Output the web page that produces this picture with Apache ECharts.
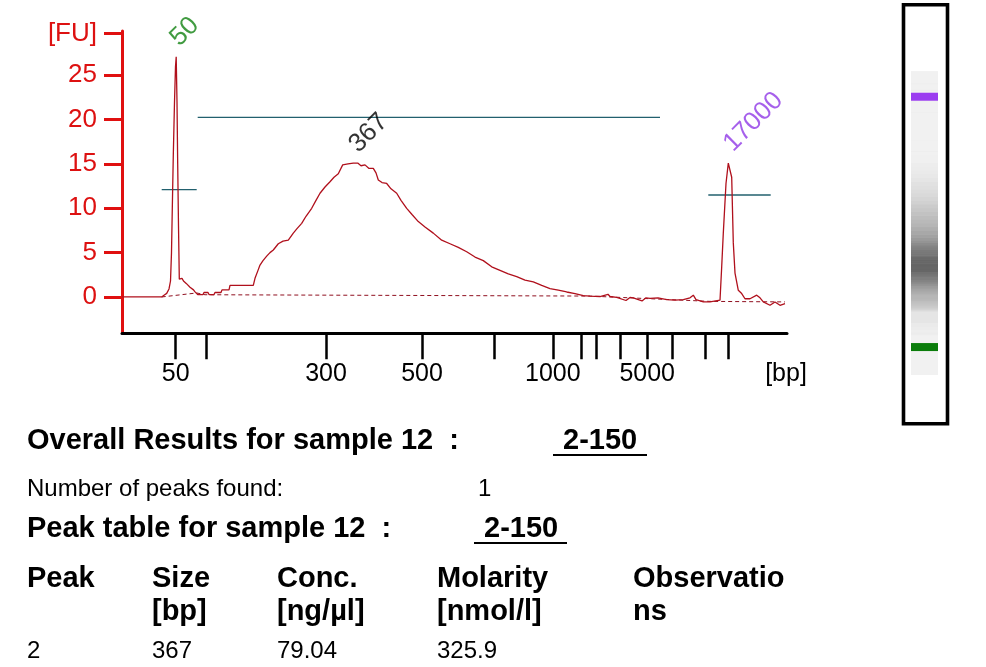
<!DOCTYPE html>
<html>
<head>
<meta charset="utf-8">
<script src="https://cdn.jsdelivr.net/npm/echarts@6/dist/echarts.min.js"></script>
<style>
html, body { margin: 0; padding: 0; background: #fff; }
#chart { width: 986px; height: 667px; }
</style>
</head>
<body>
<div id="chart"></div>
<script>
// electropherogram: migration time (s) vs fluorescence [FU]
const trace = [
  [40.00, 0], [43.97, 0], [44.20, 0.2], [44.47, 0.4], [44.70, 0.9], [44.85, 1.8], [44.95, 5],
  [45.03, 10], [45.13, 16], [45.25, 22], [45.35, 26], [45.42, 27.1], [45.50, 22], [45.57, 15],
  [45.65, 8], [45.73, 2.0], [45.90, 1.9], [46.00, 2.1], [46.15, 1.8], [46.30, 1.7], [46.45, 1.5],
  [46.63, 1.3], [46.80, 1.1], [46.97, 1.0], [47.15, 0.8], [47.30, 0.57], [47.57, 0.27], [48.10, 0.27],
  [48.20, 0.5], [48.60, 0.5], [48.70, 0.27], [49.20, 0.27], [49.30, 0.5], [49.90, 0.5], [50.00, 0.8],
  [50.70, 0.8], [50.80, 1.3], [53.13, 1.3], [53.30, 2.1], [53.60, 3.0], [53.80, 3.6], [54.10, 4.1],
  [54.47, 4.6], [54.80, 5.0], [55.13, 5.3], [55.63, 6.0], [56.10, 6.3], [56.63, 6.4], [57.13, 7.2],
  [57.50, 7.7], [57.97, 8.3], [58.40, 9.1], [58.97, 10.0], [59.40, 10.9], [59.80, 11.7], [60.30, 12.4],
  [60.80, 13.0], [61.20, 13.5], [61.63, 13.9], [62.07, 14.9], [62.60, 15.0], [63.13, 15.1], [63.57, 15.1],
  [63.90, 14.8], [64.30, 14.9], [64.70, 14.5], [65.13, 14.5], [65.40, 14.0], [65.63, 13.2], [66.00, 12.9],
  [66.47, 12.8], [66.90, 12.2], [67.47, 11.7], [67.90, 10.9], [68.47, 10.0], [69.00, 9.3], [69.63, 8.5],
  [70.30, 7.9], [71.13, 7.2], [71.97, 6.4], [72.80, 6.0], [73.63, 5.6], [74.47, 5.1], [75.30, 4.5],
  [76.13, 4.1], [76.97, 3.4], [77.80, 3.0], [78.63, 2.6], [79.47, 2.3], [80.30, 1.9], [81.13, 1.7],
  [81.97, 1.3], [82.80, 0.95], [83.63, 0.76], [84.47, 0.56], [85.30, 0.38], [86.13, 0.15], [86.80, 0.1],
  [87.80, 0.05], [88.60, 0.3], [88.80, 0.05], [89.47, -0.05], [90.40, -0.4], [90.80, -0.05], [91.13, -0.1],
  [92.00, -0.45], [92.40, -0.1], [92.80, -0.15], [93.60, -0.1], [94.47, -0.3], [95.30, -0.35], [96.13, -0.3],
  [96.80, -0.1], [97.13, 0.2], [97.40, -0.3], [98.13, -0.56], [98.80, -0.56], [99.80, -0.37], [99.97, 3.4],
  [100.13, 7.2], [100.40, 12.8], [100.63, 15.1], [100.75, 15.2], [100.97, 13.5], [101.13, 6.1], [101.30, 2.7],
  [101.63, 0.75], [101.97, 0.38], [102.30, -0.2], [102.80, -0.2], [103.47, 0.2], [103.80, -0.1], [104.13, -0.56],
  [104.80, -0.94], [105.30, -0.56], [105.80, -0.94], [106.30, -0.75]
];
const baseline = [[43.97, 0], [47.47, 0.45], [48.3, 0.25], [86.8, 0.1], [98.8, -0.5], [106.3, -0.56]];

// integration regions
const regionStart = [43.97, 47.57, 98.63];
const regionEnd = [47.47, 93.8, 104.87];
const regionLevel = [12.1, 20.25, 11.5];

// labelled peaks
const peakTime = [45.42, 63.3, 100.75];
const peakFU = [27.1, 15.1, 15.2];
const peakText = ['50', '367', '17000'];

// ladder (bp) and its migration times
const ladderBp = [50, 100, 300, 500, 700, 1000, 1500, 2000, 3000, 5000, 7000, 10000, 17000];
const ladderTime = [45.37, 48.44, 60.4, 70.0, 77.25, 83.08, 85.97, 87.43, 89.86, 92.52, 95.0, 98.35, 100.64];
const labelledBp = [50, 300, 500, 1000, 5000];
const unitPos = 106.4;
const yTicks = [0, 5, 10, 15, 20, 25, 29.7];

// gel lane markers (lower / upper)
const markerTime = [45.37, 100.64];

// text results
const sampleName = '2-150';
const peaksFound = '1';
const tableHead1 = ['Peak', 'Size', 'Conc.', 'Molarity', 'Observatio'];
const tableHead2 = ['', '[bp]', '[ng/\u00b5l]', '[nmol/l]', 'ns'];
const tableRow = ['2', '367', '79.04', '325.9', ''];

const peakColors = ['#118211', '#000000', '#9038e6'];
const markerColors = ['#0b7d0b', '#9b3cf0'];
const colX = [27, 152, 277, 437, 633];
const FONT = 'Liberation Sans, Arial, sans-serif';

const chart = echarts.init(document.getElementById('chart'));

const labelTimes = labelledBp.map(b => ladderTime[ladderBp.indexOf(b)]).concat([unitPos]);
function xLabel(v) {
  if (v === unitPos) return '[bp]';
  const i = ladderTime.indexOf(v);
  return i >= 0 ? String(ladderBp[i]) : '';
}

const regionSeries = regionStart.map((s, i) => ({
  type: 'line', xAxisIndex: 0, yAxisIndex: 0,
  data: [[s, regionLevel[i]], [regionEnd[i], regionLevel[i]]],
  symbol: 'none', silent: true, z: 2,
  lineStyle: { color: '#22606e', width: 1.3 }
}));

const gelSegments = trace.slice(0, -1).map((p, i) => [p[0], trace[i + 1][0], p[1]]);
function inMarker(t) {
  return (t > 43.9 && t < 47.6) || (t > 99.85 && t < 101.7);
}

const texts = [];
function addText(str, x, y, size, bold) {
  texts.push({
    type: 'text', x: x, y: y, silent: true,
    style: {
      text: str, fill: '#000', font: (bold ? 'bold ' : '') + size + 'px ' + FONT,
      verticalAlign: 'middle', align: 'left'
    }
  });
}
function addUnderline(x1, x2, y) {
  texts.push({
    type: 'line', silent: true,
    shape: { x1: x1, y1: y, x2: x2, y2: y },
    style: { stroke: '#000', lineWidth: 2 }
  });
}
addText('Overall Results for sample 12  :', 27, 441, 29, true);
addText(sampleName, 563, 441, 29, true);
addUnderline(553, 647, 455);
addText('Number of peaks found:', 27, 489, 24, false);
addText(peaksFound, 478, 489, 24, false);
addText('Peak table for sample 12  :', 27, 529, 29, true);
addText(sampleName, 484, 529, 29, true);
addUnderline(474, 567, 543);
tableHead1.forEach((s, i) => addText(s, colX[i], 579, 29, true));
tableHead2.forEach((s, i) => addText(s, colX[i], 612, 29, true));
tableRow.forEach((s, i) => addText(s, colX[i], 651, 24, false));
texts.push({
  type: 'rect', silent: true,
  shape: { x: 903.5, y: 4.7, width: 44, height: 419 },
  style: { fill: null, stroke: '#000', lineWidth: 3.6 }
});

const option = {
  animation: false,
  backgroundColor: '#fff',
  textStyle: { fontFamily: FONT },
  grid: [
    { left: 122, top: 31, width: 665, height: 302.3 },
    { left: 911, top: 72, width: 27, height: 303, show: true, backgroundColor: '#f1f1f1', borderWidth: 0 }
  ],
  xAxis: [
    {
      type: 'value', gridIndex: 0, min: 40, max: 106.5,
      axisLine: { onZero: false, lineStyle: { color: '#000', width: 3 } },
      axisTick: { customValues: ladderTime, length: 26, lineStyle: { color: '#000', width: 2.5 } },
      axisLabel: {
        customValues: labelTimes, formatter: xLabel, color: '#000',
        fontSize: 25, margin: 28, fontFamily: FONT
      },
      splitLine: { show: false }
    },
    { type: 'value', gridIndex: 1, min: 0, max: 1, show: false }
  ],
  yAxis: [
    {
      type: 'value', gridIndex: 0, min: -4.1, max: 30,
      axisLine: { show: true, onZero: false, lineStyle: { color: '#e01010', width: 3 } },
      axisTick: { show: true, customValues: yTicks, length: 18, lineStyle: { color: '#e01010', width: 3 } },
      axisLabel: {
        customValues: yTicks, formatter: v => (v === 29.7 ? '[FU]' : String(v)),
        color: '#dd1111', fontSize: 26, margin: 25, fontFamily: FONT
      },
      splitLine: { show: false }
    },
    { type: 'value', gridIndex: 1, min: 39.2, max: 106.1, show: false }
  ],
  series: regionSeries.concat([
    {
      type: 'line', name: 'baseline', xAxisIndex: 0, yAxisIndex: 0,
      data: baseline, symbol: 'none', silent: true, z: 3,
      lineStyle: { color: '#901020', width: 1, type: [4, 3] }
    },
    {
      type: 'line', name: 'sample', xAxisIndex: 0, yAxisIndex: 0,
      data: trace, symbol: 'none', silent: true, z: 4,
      lineStyle: { color: '#b0101c', width: 1.3 }
    },
    {
      type: 'scatter', xAxisIndex: 0, yAxisIndex: 0, z: 5, silent: true,
      symbolSize: 1, itemStyle: { color: 'transparent' }, clip: false,
      data: peakTime.map((t, i) => ({
        value: [t, peakFU[i]],
        label: { color: peakColors[i] }
      })),
      label: {
        show: true, position: [8, -5], rotate: 45, align: 'left', verticalAlign: 'bottom',
        fontSize: 26, fontFamily: FONT,
        formatter: p => peakText[p.dataIndex]
      }
    },
    {
      type: 'custom', xAxisIndex: 1, yAxisIndex: 1, silent: true,
      data: gelSegments,
      renderItem: (params, api) => {
        const t0 = api.value(0), t1 = api.value(1);
        const fu = inMarker(t0) ? 0 : Math.max(0, api.value(2));
        const g = Math.round(Math.max(90, 241 - fu * 9.3));
        const yTop = api.coord([0, t1])[1];
        const yBot = api.coord([0, t0])[1];
        const cs = params.coordSys;
        return {
          type: 'rect',
          shape: { x: cs.x, y: yTop, width: cs.width, height: yBot - yTop + 0.6 },
          style: { fill: 'rgb(' + g + ',' + g + ',' + g + ')' }
        };
      }
    },
    {
      type: 'custom', xAxisIndex: 1, yAxisIndex: 1, silent: true, z: 6,
      data: markerTime.map(t => [0, t]),
      renderItem: (params, api) => {
        const y = api.coord([0, api.value(1)])[1];
        const cs = params.coordSys;
        return {
          type: 'rect',
          shape: { x: cs.x, y: y - 4, width: cs.width, height: 8 },
          style: { fill: markerColors[params.dataIndex] }
        };
      }
    }
  ]),
  graphic: texts
};

chart.setOption(option);
</script>
</body>
</html>
